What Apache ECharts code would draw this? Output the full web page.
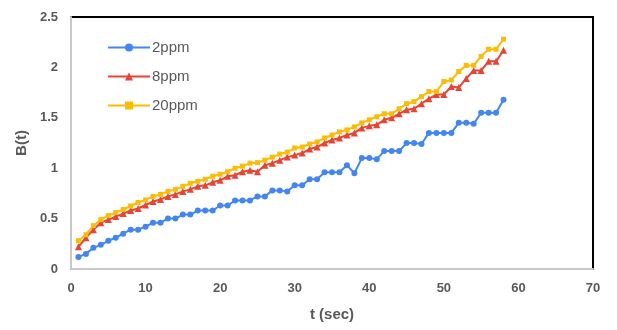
<!DOCTYPE html>
<html><head><meta charset="utf-8">
<script src="https://cdn.jsdelivr.net/npm/echarts@6/dist/echarts.min.js"></script>
<style>html,body{margin:0;padding:0;background:#fff}#c{width:617px;height:330px}</style>
</head><body><div id="c"></div>
<script>
var tValues = [1,2,3,4,5,6,7,8,9,10,11,12,13,14,15,16,17,18,19,20,21,22,23,24,25,26,27,28,29,30,31,32,33,34,35,36,37,38,39,40,41,42,43,44,45,46,47,48,49,50,51,52,53,54,55,56,57,58];
var ppm2 = [0.12,0.15,0.21,0.24,0.28,0.31,0.35,0.39,0.39,0.42,0.46,0.46,0.50,0.50,0.54,0.54,0.58,0.58,0.58,0.63,0.63,0.68,0.68,0.68,0.72,0.72,0.78,0.78,0.77,0.83,0.83,0.89,0.89,0.96,0.96,0.96,1.03,0.95,1.10,1.10,1.09,1.17,1.17,1.17,1.25,1.25,1.24,1.35,1.35,1.35,1.35,1.45,1.45,1.44,1.55,1.55,1.55,1.68];
var ppm8 = [0.22,0.31,0.39,0.46,0.49,0.52,0.55,0.58,0.60,0.635,0.67,0.69,0.72,0.74,0.77,0.79,0.82,0.83,0.86,0.88,0.92,0.93,0.965,0.98,0.965,1.03,1.05,1.08,1.11,1.13,1.15,1.19,1.21,1.25,1.28,1.30,1.33,1.35,1.40,1.42,1.43,1.48,1.50,1.54,1.58,1.59,1.64,1.69,1.73,1.73,1.81,1.80,1.89,1.97,1.97,2.06,2.06,2.17];
var ppm20 = [0.28,0.34,0.43,0.49,0.53,0.56,0.59,0.625,0.66,0.685,0.72,0.74,0.77,0.79,0.82,0.85,0.87,0.89,0.92,0.94,0.965,1.0,1.02,1.05,1.055,1.08,1.11,1.14,1.16,1.20,1.21,1.24,1.26,1.30,1.33,1.36,1.38,1.41,1.45,1.48,1.51,1.54,1.54,1.59,1.64,1.66,1.71,1.76,1.76,1.86,1.875,1.96,2.02,2.02,2.11,2.18,2.18,2.28];
var seriesNames = ['2ppm','8ppm','20ppm'];

function pairs(ys){ return tValues.map(function(t,i){ return [t, ys[i]]; }); }

var chart = echarts.init(document.getElementById('c'));
var fam = 'Liberation Sans, Arial, sans-serif';
var labelStyle = {color:'#595959', fontSize:13, fontWeight:'bold', fontFamily:fam};
chart.setOption({
  animation:false,
  grid:{left:71, right:24, top:17, bottom:61, show:true, borderColor:'#000', borderWidth:2, backgroundColor:'#fff'},
  legend:{
    orient:'vertical', left:107, top:40, padding:0, itemGap:14, itemWidth:42, itemHeight:10,
    textStyle:{color:'#595959', fontSize:15, fontFamily:fam, padding:[0,0,0,-3]},
    data:seriesNames
  },
  xAxis:{
    type:'value', min:0, max:70, interval:10,
    name:'t (sec)', nameLocation:'middle', nameGap:38,
    nameTextStyle:{color:'#595959', fontSize:15, fontWeight:'bold', fontFamily:fam},
    axisLine:{show:true, lineStyle:{color:'#c8c8c8', width:2}},
    axisTick:{show:false}, splitLine:{show:false},
    axisLabel:Object.assign({margin:13}, labelStyle)
  },
  yAxis:{
    type:'value', min:0, max:2.5, interval:0.5,
    name:'B(t)', nameLocation:'middle', nameGap:42, nameRotate:90,
    nameTextStyle:{color:'#595959', fontSize:15, fontWeight:'bold', fontFamily:fam},
    axisLine:{show:true, lineStyle:{color:'#c8c8c8', width:2}},
    axisTick:{show:false}, splitLine:{show:false},
    axisLabel:Object.assign({margin:13}, labelStyle)
  },
  series:[
    {name:seriesNames[0], type:'line', data:pairs(ppm2), symbol:'circle', symbolSize:6,
     itemStyle:{color:'#4285F4'}, lineStyle:{color:'#4285F4', width:2}},
    {name:seriesNames[1], type:'line', data:pairs(ppm8), symbol:'triangle', symbolSize:7,
     itemStyle:{color:'#EA4335'}, lineStyle:{color:'#EA4335', width:2}},
    {name:seriesNames[2], type:'line', data:pairs(ppm20), symbol:'rect', symbolSize:5,
     itemStyle:{color:'#FBBC04'}, lineStyle:{color:'#FBBC04', width:2}}
  ]
});
</script></body></html>
